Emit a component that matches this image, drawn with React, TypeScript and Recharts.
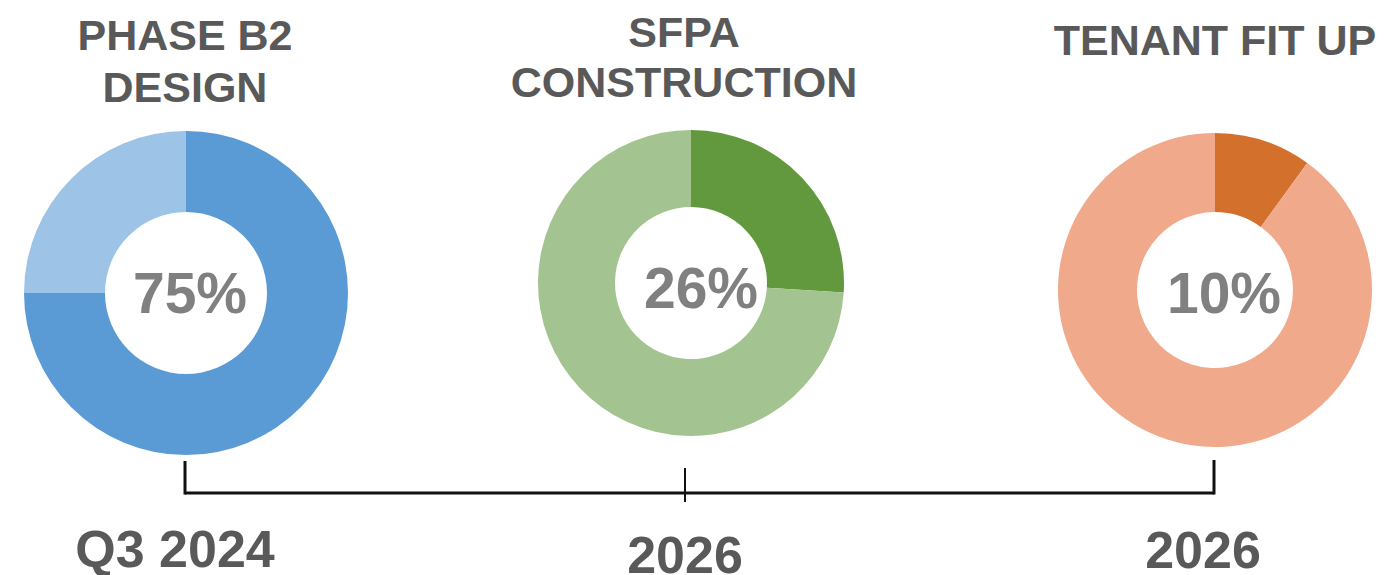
import { PieChart, Pie, Cell } from 'recharts';

// phase titles (one entry per line)
const phaseTitles = [
    ['PHASE B2', 'DESIGN'],
    ['SFPA', 'CONSTRUCTION'],
    ['TENANT FIT UP'],
];
const progress = [75, 26, 10];
const milestones = ['Q3 2024', '2026', '2026'];

const doneColors = ['#5B9BD5', '#62993E', '#D3702C'];
const restColors = ['#9DC3E6', '#A3C490', '#F0A98A'];

// layout of each panel
const panels = [
    { cx: 186, cy: 293, r: 162, ir: 81, titleY: [50, 102], titleX: 185, pctX: 190, pctY: 313, dateX: 175, dateY: 567 },
    { cx: 691, cy: 283, r: 153, ir: 76, titleY: [47, 97], titleX: 684, pctX: 701, pctY: 308, dateX: 685, dateY: 573 },
    { cx: 1215, cy: 290, r: 157, ir: 78, titleY: [55], titleX: 1215, pctX: 1224, pctY: 313, dateX: 1203, dateY: 568 },
];

const font = '"Liberation Sans", Arial, sans-serif';

export default function App() {
    return (
        <div style={{ position: 'absolute', left: 0, top: 0, width: 1386, height: 575, background: '#fff' }}>
            <PieChart width={1386} height={575} margin={{ top: 0, right: 0, bottom: 0, left: 0 }}>
                {progress.map((p, i) => (
                    <Pie
                        key={i}
                        data={[
                            { name: 'done', value: p },
                            { name: 'remaining', value: 100 - p },
                        ]}
                        dataKey="value"
                        cx={panels[i].cx}
                        cy={panels[i].cy}
                        innerRadius={panels[i].ir}
                        outerRadius={panels[i].r}
                        startAngle={90}
                        endAngle={-270}
                        stroke="none"
                        isAnimationActive={false}
                    >
                        <Cell fill={doneColors[i]} />
                        <Cell fill={restColors[i]} />
                    </Pie>
                ))}
            </PieChart>
            <svg width={1386} height={575} style={{ position: 'absolute', left: 0, top: 0, pointerEvents: 'none' }}>
                {/* timeline bracket */}
                <line x1={185} y1={493} x2={1214} y2={493} stroke="#111" strokeWidth={3} />
                <line x1={185} y1={461} x2={185} y2={494.5} stroke="#111" strokeWidth={3} />
                <line x1={1214} y1={460} x2={1214} y2={494.5} stroke="#111" strokeWidth={3} />
                <line x1={685} y1={468} x2={685} y2={502} stroke="#111" strokeWidth={2} />

                {panels.map((pn, i) => (
                    <g key={i} fontFamily={font} fontWeight="bold" textAnchor="middle">
                        {phaseTitles[i].map((line, j) => (
                            <text key={j} x={pn.titleX} y={pn.titleY[j]} fontSize={43} fill="#595959">
                                {line}
                            </text>
                        ))}
                        <text x={pn.pctX} y={pn.pctY} fontSize={57} fill="#808080">
                            {progress[i]}%
                        </text>
                        <text x={pn.dateX} y={pn.dateY} fontSize={52} fill="#595959">
                            {milestones[i]}
                        </text>
                    </g>
                ))}
            </svg>
        </div>
    );
}
